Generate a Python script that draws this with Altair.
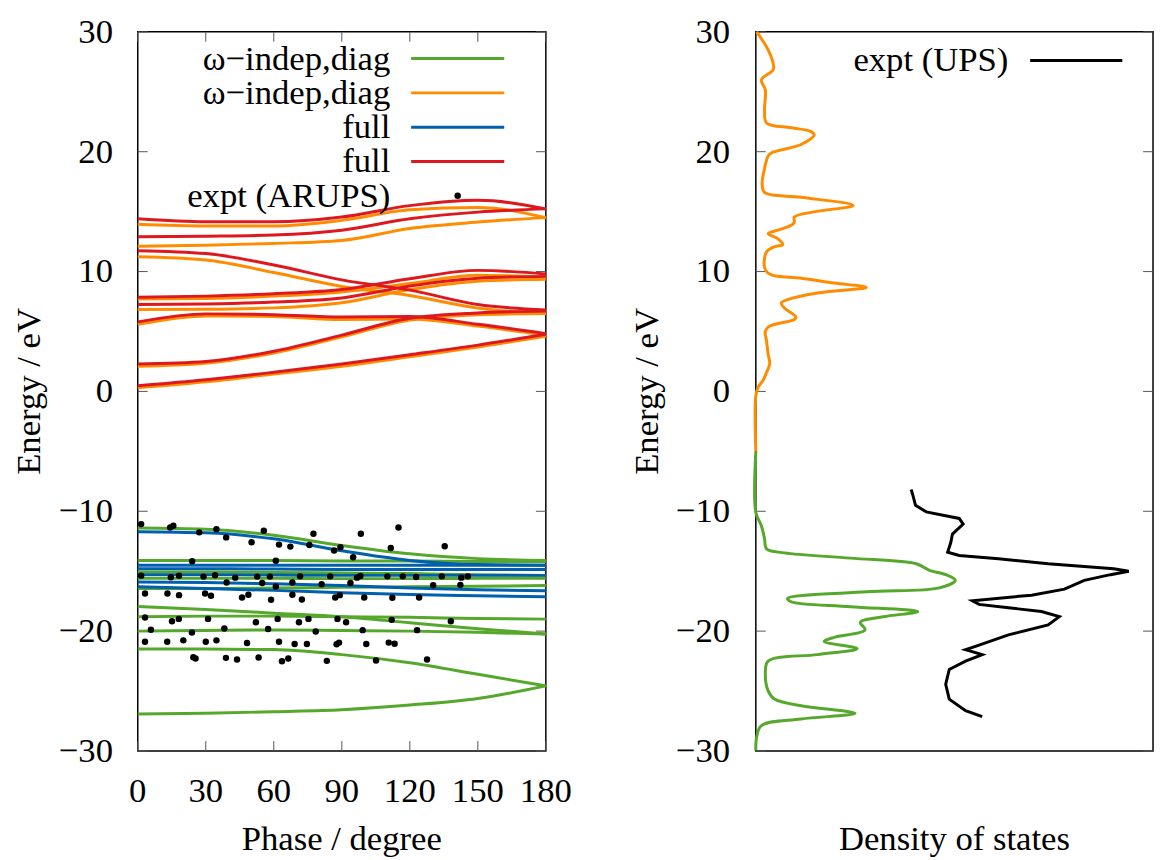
import altair as alt
import pandas as pd

# ---------------- data: band structure ----------------
PHASE = [0, 30, 60, 90, 120, 150, 180]

# omega-independent, diagonal (valence, green)
GREEN_BANDS = [
    [-11.4, -11.5, -12.0, -12.85, -13.55, -13.95, -14.1],
    [-14.1, -14.1, -14.1, -14.15, -14.15, -14.2, -14.2],
    [-15.07, -15.07, -15.1, -15.15, -15.2, -15.3, -15.35],
    [-15.6, -15.6, -15.6, -15.62, -15.62, -15.6, -15.6],
    [-16.45, -16.45, -16.4, -16.35, -16.3, -16.25, -16.2],
    [-17.95, -18.2, -18.5, -18.8, -19.3, -19.8, -20.25],
    [-18.8, -18.75, -18.75, -18.8, -18.85, -18.95, -19.0],
    [-20.0, -19.95, -19.9, -19.95, -20.0, -20.1, -20.25],
    [-21.49, -21.5, -21.54, -21.96, -22.64, -23.6, -24.57],
    [-26.91, -26.86, -26.72, -26.56, -26.17, -25.62, -24.57],
]
# omega-independent, diagonal (conduction, orange)
ORANGE_BANDS = [
    [0.3, 0.8, 1.45, 2.1, 2.9, 3.7, 4.6],
    [2.1, 2.35, 3.2, 4.55, 5.95, 6.4, 6.5],
    [5.6, 6.3, 6.25, 6.0, 6.05, 5.45, 4.7],
    [11.24, 10.97, 9.92, 8.76, 8.0, 6.95, 6.5],
    [7.7, 7.75, 7.95, 8.3, 9.0, 9.7, 9.55],
    [6.83, 6.85, 6.97, 7.4, 8.5, 9.2, 9.35],
    [12.12, 12.2, 12.35, 12.6, 13.6, 14.13, 14.5],
    [13.94, 13.8, 13.8, 14.27, 15.15, 15.35, 14.5],
]
# full (valence, blue)
BLUE_BANDS = [
    [-11.7, -11.8, -12.3, -13.3, -14.1, -14.45, -14.5],
    [-14.5, -14.5, -14.5, -14.5, -14.5, -14.5, -14.5],
    [-14.8, -14.8, -14.82, -14.85, -14.85, -14.85, -14.85],
    [-15.3, -15.3, -15.32, -15.35, -15.35, -15.35, -15.35],
    [-15.9, -15.95, -16.05, -16.2, -16.4, -16.55, -16.64],
    [-16.3, -16.45, -16.6, -16.8, -16.95, -17.05, -17.13],
]
# full (conduction, red)
RED_BANDS = [
    [0.47, 0.97, 1.6, 2.29, 3.06, 3.86, 4.77],
    [2.29, 2.5, 3.35, 4.7, 6.1, 6.55, 6.7],
    [5.8, 6.47, 6.4, 6.2, 6.25, 5.6, 4.82],
    [11.74, 11.5, 10.55, 9.31, 8.45, 7.25, 6.8],
    [7.85, 7.95, 8.15, 8.5, 9.4, 10.1, 9.8],
    [7.25, 7.3, 7.46, 7.8, 8.8, 9.45, 9.6],
    [12.9, 12.95, 13.05, 13.45, 14.4, 14.96, 15.23],
    [14.4, 14.15, 14.15, 14.55, 15.5, 15.95, 15.23],
]

# experimental ARUPS points (phase in degree, energy in eV)
EXPT_PHASE = [
    1.5, 14.3, 15.7, 27.1, 34.7, 39.0, 50.2, 55.6, 62.3, 67.3, 75.7, 77.5, 86.6, 89.4, 95.0, 98.4, 111.6, 115.0, 135.4,
    24.0, 60.9,
    1.5, 14.6, 18.2, 29.0, 34.1, 43.0, 52.7, 58.3, 71.6, 84.9, 98.2, 110.1, 116.9, 122.8, 134.1, 142.7, 145.6,
    39.2, 54.9, 60.9, 68.2, 81.1, 93.8, 96.7, 130.3, 142.3,
    3.2, 13.1, 18.2, 29.7, 32.3, 46.0, 48.8, 58.8, 68.2, 72.4, 87.1, 89.1, 99.9, 112.3, 124.1,
    3.2, 15.1, 18.1, 31.0, 52.1, 61.7, 71.1, 75.3, 88.1, 91.9, 112.0, 138.1,
    5.8, 23.9, 38.2, 57.5, 78.5, 99.2, 123.2,
    3.2, 13.0, 20.1, 30.0, 34.7, 48.2, 62.3, 69.2, 74.6, 87.7, 88.8, 100.8, 110.7, 113.3,
    24.5, 25.5, 38.9, 43.8, 53.3, 63.6, 66.4, 83.4, 105.1, 127.6,
]
EXPT_ENERGY = [
    -11.07, -11.35, -11.21, -11.76, -11.49, -12.18, -12.59, -11.63, -12.78, -12.95, -12.81, -11.87, -13.28, -13.0, -13.83, -11.87, -13.06, -11.35, -12.92,
    -14.16, -14.13,
    -15.37, -15.51, -15.37, -15.45, -15.34, -15.54, -15.45, -15.45, -15.43, -15.43, -15.40, -15.43, -15.43, -15.48, -15.43, -15.54, -15.43,
    -15.95, -15.98, -16.28, -15.95, -16.09, -15.98, -15.54, -16.17, -16.14,
    -16.86, -16.86, -17.0, -16.86, -17.05, -17.19, -16.97, -17.38, -16.97, -17.36, -17.19, -17.0, -17.19, -17.22, -17.19,
    -18.87, -19.17, -18.98, -18.98, -19.26, -18.98, -19.26, -18.98, -18.98, -19.26, -19.06, -19.17,
    -19.89, -20.11, -19.78, -19.83, -20.03, -19.92, -19.92,
    -20.88, -20.88, -20.77, -20.88, -20.77, -20.99, -20.88, -21.07, -21.07, -21.10, -20.96, -21.07, -20.96, -21.05,
    -22.18, -22.29, -22.23, -22.37, -22.20, -22.51, -22.29, -22.48, -22.45, -22.37,
]

LEGEND_LABELS = ["ω−indep,diag", "ω−indep,diag", "full", "full", "expt (ARUPS)"]
GREEN, ORANGE, BLUE, RED = "#55a82b", "#ff8c00", "#0060ad", "#dd181f"
LEGEND_COLORS = [GREEN, ORANGE, BLUE, RED, "black"]

# ---------------- data: density of states ----------------
DOS_CALC_CB_X = [0, 0, 0.6, 1.8, 2.7, 3.5, 3.1, 2.7, 2.4, 3.5, 9.7, 10.1, 7.2, 6.4, 8.0, 15.5, 27.8, 19.7, 11.4, 3.9,
                 2.4, 2.1, 2.7, 4.7, 6.8, 5.5, 3.1, 6.0, 8.9, 9.7, 9.7, 15.0, 24.5, 11.4, 2.2, 1.6, 2.0, 3.1, 3.9, 11.4,
                 14.7, 13.8, 8.9, 2.7, 2.2, 2.4, 1.4, 4.3, 4.5, 3.1, 0.2]
DOS_CALC_CB_E = [-5.0, -0.33, 0.36, 0.91, 1.6, 2.29, 3.11, 4.21, 5.04, 5.45, 6.0, 6.2, 6.97, 7.38, 7.66, 8.21, 8.68, 9.04, 9.45, 9.72,
                 10.14, 10.83, 11.65, 12.07, 12.26, 12.75, 13.17, 13.5, 13.86, 14.13, 14.55, 15.0, 15.51, 16.2, 16.6, 17.4, 18.3, 19.64, 19.9, 20.6,
                 21.4, 21.7, 22.0, 22.4, 23.5, 25.15, 26.0, 26.8, 27.1, 28.5, 30.0]
DOS_CALC_VB_X = [0, 0, 1.4, 2.2, 2.7, 7.2, 23.8, 40.4, 43.7, 47.9, 50.2, 46.2, 27.9, 8.0, 8.9, 23.8, 40.8, 32.1, 26.3, 27.5,
                 19.7, 17.2, 25.5, 15.5, 3.1, 2.4, 3.1, 4.7, 11.4, 25.0, 11.4, 1.4, 0.2, 0]
DOS_CALC_VB_E = [-5.0, -10.1, -11.21, -12.31, -13.14, -13.47, -13.91, -14.38, -14.93, -15.29, -15.76, -16.39, -16.72, -17.27, -17.55, -17.96, -18.37, -18.8, -19.26, -19.89,
                 -20.52, -20.86, -21.46, -21.96, -22.5, -23.6, -24.98, -25.67, -26.23, -26.86, -27.33, -27.88, -28.84, -29.95]
DOS_UPS_X = [39.1, 39.6, 40.2, 42.9, 51.2, 52.2, 49.5, 49.1, 48.3, 51.2, 61.1, 73.6, 90.1, 93.9, 89.3, 82.7, 77.7, 69.4, 54.5, 56.2,
             63.6, 71.9, 76.4, 73.6, 63.6, 55.3, 52.8, 57.0, 52.8, 48.7, 47.8, 48.7, 52.8, 57.0]
DOS_UPS_E = [-8.18, -8.73, -9.5, -10.05, -10.6, -11.07, -11.9, -12.59, -13.42, -13.69, -13.97, -14.38, -14.79, -15.01, -15.29, -15.76, -16.5, -17.0, -17.46, -17.77,
             -18.05, -18.37, -18.79, -19.48, -20.31, -21.27, -21.54, -21.96, -22.5, -23.2, -24.44, -25.68, -26.64, -27.13]

E_TICKS = [-30, -20, -10, 0, 10, 20, 30]
PHASE_TICKS = [0, 30, 60, 90, 120, 150, 180]
Y_TITLE = "Energy / eV"
X_TITLE_LEFT = "Phase / degree"
X_TITLE_RIGHT = "Density of states"

FONT = "'Liberation Serif', 'Times New Roman', 'DejaVu Serif', serif"
FS = 35
W1, W2, H = 412, 401, 726
TICK_LEN = 10

xs = alt.Scale(domain=[0, 180], nice=False, zero=False)
ys = alt.Scale(domain=[-30, 30], nice=False, zero=False)
xd = alt.Scale(domain=[0, 100], nice=False, zero=False)

one = pd.DataFrame({"a": [0]})
ytick_df = pd.DataFrame({"E": E_TICKS})
xtick_df = pd.DataFrame({"phase": PHASE_TICKS})


def txt(**kw):
    base = dict(font=FONT, fontSize=FS, color="black")
    base.update(kw)
    return base


def bands_df(bands):
    rows = []
    for i, b in enumerate(bands):
        for x, e in zip(PHASE, b):
            rows.append({"band": i, "phase": x, "E": e})
    return pd.DataFrame(rows)


def band_layer(bands, color):
    return alt.Chart(bands_df(bands)).mark_line(color=color, strokeWidth=3, interpolate="monotone").encode(
        x=alt.X("phase:Q", scale=xs, axis=None),
        y=alt.Y("E:Q", scale=ys, axis=None),
        detail="band:N",
    )


def y_ticks_and_labels(width, label_x):
    out = []
    for xa, xb in [(0, TICK_LEN), (width - TICK_LEN, width)]:
        out.append(alt.Chart(ytick_df).mark_rule(color="#555", strokeWidth=1).encode(
            y=alt.Y("E:Q", scale=ys, axis=None), x=alt.value(xa), x2=alt.value(xb)))
    out.append(alt.Chart(ytick_df).mark_text(**txt(align="right", baseline="middle")).encode(
        y=alt.Y("E:Q", scale=ys, axis=None), x=alt.value(label_x), text=alt.Text("E:Q", format="d")))
    out.append(alt.Chart(one).mark_text(**txt(align="center", baseline="alphabetic", angle=270)).encode(
        x=alt.value(-99), y=alt.value(H / 2), text=alt.value(Y_TITLE)))
    return out


expt_df = pd.DataFrame({"phase": EXPT_PHASE, "E": EXPT_ENERGY})
dots = alt.Chart(expt_df).mark_circle(color="black", size=42, opacity=1).encode(
    x=alt.X("phase:Q", scale=xs, axis=None),
    y=alt.Y("E:Q", scale=ys, axis=None),
)

x_deco = [
    alt.Chart(xtick_df).mark_rule(color="#555", strokeWidth=1).encode(
        x=alt.X("phase:Q", scale=xs, axis=None), y=alt.value(H - TICK_LEN), y2=alt.value(H)),
    alt.Chart(xtick_df).mark_rule(color="#555", strokeWidth=1).encode(
        x=alt.X("phase:Q", scale=xs, axis=None), y=alt.value(0), y2=alt.value(TICK_LEN)),
    alt.Chart(xtick_df).mark_text(**txt(align="center", baseline="alphabetic")).encode(
        x=alt.X("phase:Q", scale=xs, axis=None), y=alt.value(H + 52), text=alt.Text("phase:Q", format="d")),
    alt.Chart(one).mark_text(**txt(align="center", baseline="alphabetic")).encode(
        x=alt.value(W1 / 2), y=alt.value(H + 100), text=alt.value(X_TITLE_LEFT)),
]

# legend (left panel)
legend_layers = []
ROW0, ROWSTEP = 27, 34.6
for i, (lab, col) in enumerate(zip(LEGEND_LABELS, LEGEND_COLORS)):
    yy = ROW0 + i * ROWSTEP
    legend_layers.append(alt.Chart(one).mark_text(**txt(align="right", baseline="middle")).encode(
        x=alt.value(255), y=alt.value(yy), text=alt.value(lab)))
    if i < 4:
        legend_layers.append(alt.Chart(one).mark_rule(color=col, strokeWidth=3).encode(
            x=alt.value(276), x2=alt.value(370), y=alt.value(yy)))
    else:
        legend_layers.append(alt.Chart(one).mark_circle(color="black", size=42, opacity=1).encode(
            x=alt.value(323), y=alt.value(yy)))

left = alt.layer(
    *y_ticks_and_labels(W1, -25), *x_deco,
    band_layer(GREEN_BANDS, GREEN),
    band_layer(ORANGE_BANDS, ORANGE),
    band_layer(BLUE_BANDS, BLUE),
    band_layer(RED_BANDS, RED),
    dots,
    *legend_layers,
).properties(width=W1, height=H)


def dos_line(xv, ev, color, interp):
    df = pd.DataFrame({"x": xv, "E": ev, "i": range(len(xv))})
    return alt.Chart(df).mark_line(color=color, strokeWidth=3, interpolate=interp).encode(
        x=alt.X("x:Q", scale=xd, axis=None),
        y=alt.Y("E:Q", scale=ys, axis=None),
        order="i:Q",
    )


right_deco = [
    alt.Chart(one).mark_text(**txt(align="center", baseline="alphabetic")).encode(
        x=alt.value(W2 / 2), y=alt.value(H + 100), text=alt.value(X_TITLE_RIGHT)),
    alt.Chart(one).mark_text(**txt(align="right", baseline="middle")).encode(
        x=alt.value(255), y=alt.value(29), text=alt.value("expt (UPS)")),
    alt.Chart(one).mark_rule(color="black", strokeWidth=3).encode(
        x=alt.value(277), x2=alt.value(370), y=alt.value(29)),
]

right = alt.layer(
    *y_ticks_and_labels(W2, -26),
    dos_line(DOS_CALC_CB_X, DOS_CALC_CB_E, ORANGE, "catmull-rom"),
    dos_line(DOS_CALC_VB_X, DOS_CALC_VB_E, GREEN, "catmull-rom"),
    dos_line(DOS_UPS_X, DOS_UPS_E, "black", "linear"),
    *right_deco,
).properties(width=W2, height=H)

chart = alt.hconcat(left, right, spacing=212, bounds="flush").properties(
    padding={"left": 3, "top": 2, "right": 0, "bottom": 0}
).configure(font=FONT).configure_view(
    stroke="black", strokeWidth=1.5
)

chart.save("out.html", embed_options={"renderer": "svg", "actions": False})
